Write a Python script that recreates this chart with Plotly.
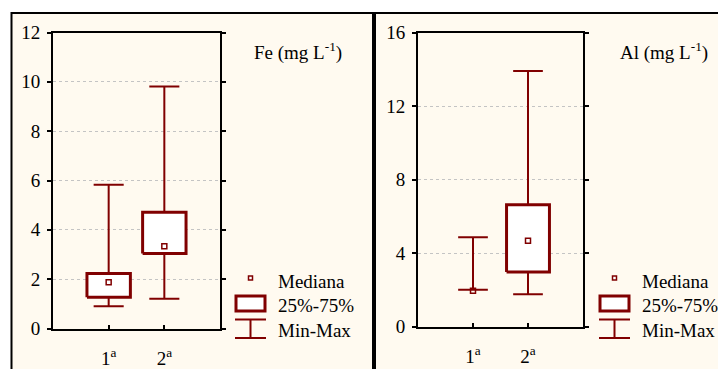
import plotly.graph_objects as go

W, H = 726, 369
OFF = 8  # page body margin

# ---------------- data ----------------
categories = ["1<sup>a</sup>", "2<sup>a</sup>"]

fe_min = [0.90, 1.21]
fe_q1 = [1.27, 3.04]
fe_med = [1.87, 3.33]
fe_q3 = [2.23, 4.71]
fe_max = [5.83, 9.81]

al_min = [2.00, 1.76]
al_q1 = [2.00, 2.97]
al_med = [1.95, 4.67]
al_q3 = [2.00, 6.63]
al_max = [4.86, 13.90]

fe_ticks = [0, 2, 4, 6, 8, 10, 12]
al_ticks = [0, 4, 8, 12, 16]

legend_labels = ["Mediana", "25%-75%", "Min-Max"]
panel_titles = ["Fe (mg L<sup>-1</sup>)", "Al (mg L<sup>-1</sup>)"]

# ---------------- style ----------------
RED = "#800000"
CREAM = "#FFFAF0"
FONT = "Liberation Serif"
FS = 19
BOX_HALF = 0.39
CAP_HALF = 0.27


def px(x):
    return (x - OFF) / W


def py(y):
    return 1 - (y - OFF) / H


fig = go.Figure()


def add_panel(xa, ya, mins, q1s, meds, q3s, maxs):
    pos = list(range(1, len(mins) + 1))
    wx, wy = [], []
    for c, lo, a, b, hi in zip(pos, mins, q1s, q3s, maxs):
        wx += [c, c, None, c, c, None]
        wy += [b, hi, None, a, lo, None]
        wx += [c - CAP_HALF, c + CAP_HALF, None, c - CAP_HALF, c + CAP_HALF, None]
        wy += [hi, hi, None, lo, lo, None]
    fig.add_trace(go.Scatter(x=wx, y=wy, mode="lines", xaxis=xa, yaxis=ya,
                             line=dict(color=RED, width=2), showlegend=False,
                             hoverinfo="skip"))
    for c, a, b in zip(pos, q1s, q3s):
        if b - a <= 0:
            continue
        fig.add_trace(go.Scatter(
            x=[c - BOX_HALF, c + BOX_HALF, c + BOX_HALF, c - BOX_HALF, c - BOX_HALF],
            y=[a, a, b, b, a], mode="lines", fill="toself", fillcolor="white",
            line=dict(color=RED, width=3), xaxis=xa, yaxis=ya, showlegend=False,
            hoverinfo="skip"))
    fig.add_trace(go.Scatter(x=pos, y=meds, mode="markers", xaxis=xa, yaxis=ya,
                             marker=dict(symbol="square-open", size=5, color=RED,
                                         line=dict(width=1.5, color=RED)),
                             showlegend=False))


add_panel("x", "y", fe_min, fe_q1, fe_med, fe_q3, fe_max)
add_panel("x2", "y2", al_min, al_q1, al_med, al_q3, al_max)

xcommon = dict(range=[0, 3], tickvals=[1, 2], ticktext=categories,
               ticks="inside", ticklen=4, tickwidth=1.5, tickcolor="black",
               showline=True, linecolor="black", linewidth=2, mirror=True,
               showgrid=False, zeroline=False, ticklabelstandoff=12, automargin=False,
               tickfont=dict(family=FONT, size=FS, color="black"), fixedrange=True)
ycommon = dict(ticks="outside", ticklen=4, tickwidth=1.5, tickcolor="black",
               showline=True, linecolor="black", linewidth=2, mirror="ticks",
               showgrid=True, gridcolor="#c4c4c4", griddash="dot", gridwidth=1,
               zeroline=False, ticklabelstandoff=3, automargin=False,
               tickfont=dict(family=FONT, size=FS, color="black"), fixedrange=True)

fig.update_layout(
    width=W, height=H,
    margin=dict(l=0, r=0, t=0, b=0, autoexpand=False),
    paper_bgcolor="white", plot_bgcolor="white",
    showlegend=False,
    xaxis=dict(domain=[px(53), px(220)], anchor="y", **xcommon),
    yaxis=dict(domain=[py(328.5), py(32.5)], anchor="x", range=[0, 12],
               tickvals=fe_ticks, **ycommon),
    xaxis2=dict(domain=[px(418), px(583)], anchor="y2", **xcommon),
    yaxis2=dict(domain=[py(326.5), py(32.5)], anchor="x2", range=[0, 16],
                tickvals=al_ticks, **ycommon),
)

shapes = []
shapes.append(dict(type="rect", xref="paper", yref="paper",
                   x0=px(11.5), x1=1.02, y0=-0.05, y1=py(13),
                   fillcolor=CREAM, line=dict(color="black", width=2), layer="below"))
shapes.append(dict(type="line", xref="paper", yref="paper",
                   x0=px(374), x1=px(374), y0=py(13), y1=-0.05,
                   line=dict(color="black", width=4)))

annotations = []
panels = [
    dict(title_x=252, text_x=276, icon_x0=235, icon_x1=266),
    dict(title_x=618, text_x=640, icon_x0=599, icon_x1=630),
]
row_y = [281, 305, 330]
for p, title in zip(panels, panel_titles):
    annotations.append(dict(xref="paper", yref="paper", x=px(p["title_x"]), y=py(52),
                            xanchor="left", yanchor="middle", showarrow=False,
                            text=title, font=dict(family=FONT, size=FS, color="black")))
    for label, ry in zip(legend_labels, row_y):
        annotations.append(dict(xref="paper", yref="paper", x=px(p["text_x"]), y=py(ry),
                                xanchor="left", yanchor="middle", showarrow=False,
                                text=label, font=dict(family=FONT, size=FS, color="black")))
    cx = (p["icon_x0"] + p["icon_x1"]) / 2
    shapes.append(dict(type="rect", xref="paper", yref="paper",
                       x0=px(cx - 2), x1=px(cx + 2), y0=py(280), y1=py(276),
                       line=dict(color=RED, width=1.5), fillcolor="white"))
    shapes.append(dict(type="rect", xref="paper", yref="paper",
                       x0=px(p["icon_x0"] + 1), x1=px(p["icon_x1"] - 1),
                       y0=py(311), y1=py(296),
                       line=dict(color=RED, width=3), fillcolor="white"))
    for yy in (319.5, 338):
        shapes.append(dict(type="line", xref="paper", yref="paper",
                           x0=px(p["icon_x0"]), x1=px(p["icon_x1"]), y0=py(yy), y1=py(yy),
                           line=dict(color=RED, width=2)))
    shapes.append(dict(type="line", xref="paper", yref="paper",
                       x0=px(cx), x1=px(cx), y0=py(319.5), y1=py(338),
                       line=dict(color=RED, width=2)))

fig.update_layout(shapes=shapes, annotations=annotations)
fig.write_html("out.html")
